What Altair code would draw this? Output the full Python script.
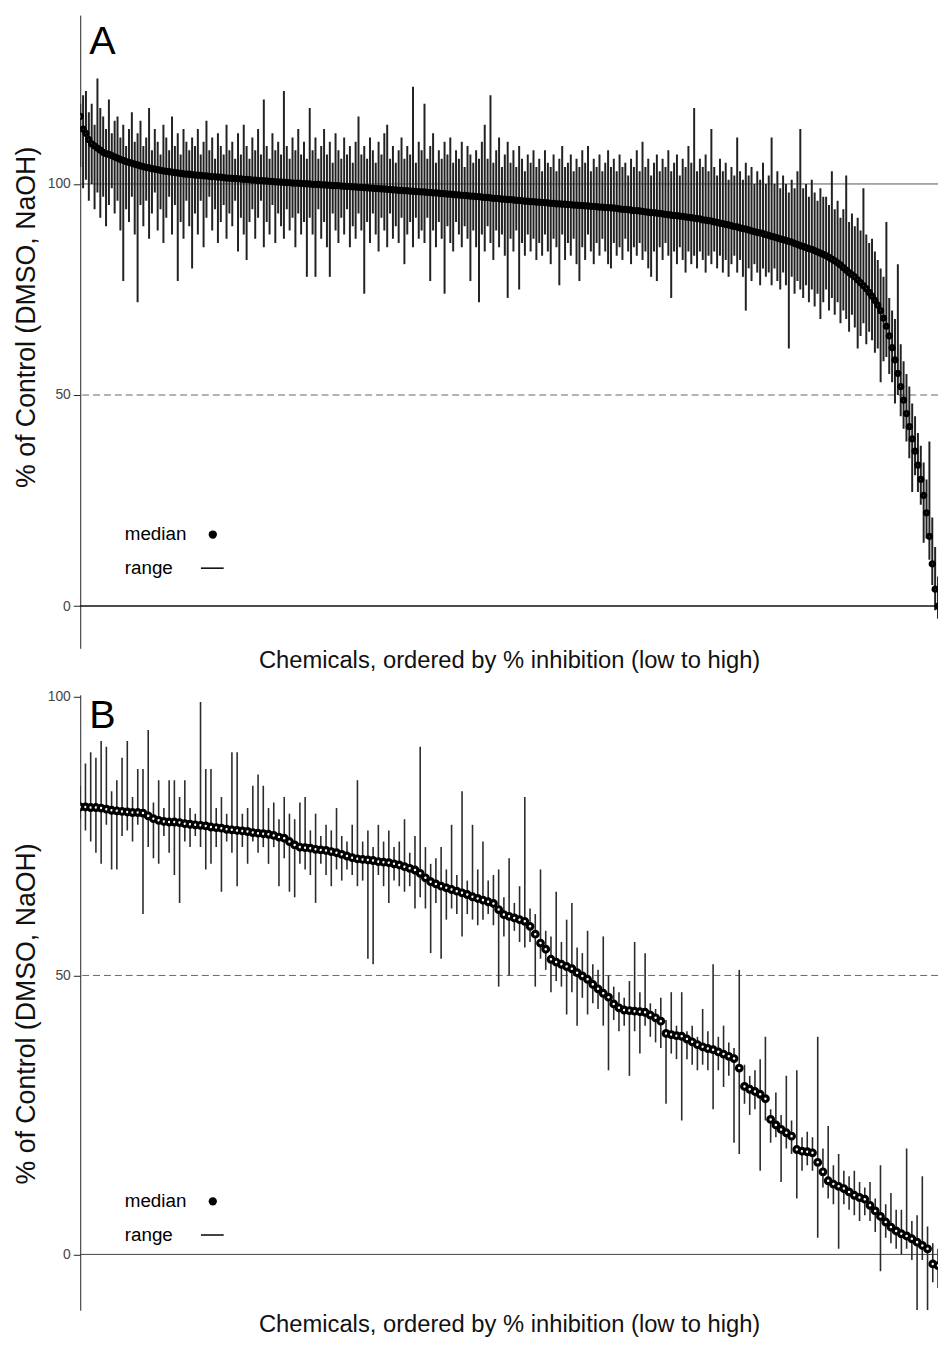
import altair as alt
import pandas as pd

# ---------------- Panel A data (chemicals ordered by % inhibition) ----------------
A_MED = [
    116, 113, 112, 110.5, 109.5, 109, 108.5, 108, 107.5, 107.2,
    107, 106.7, 106.4, 106.1, 105.8, 105.6, 105.3, 105.1, 104.9, 104.7,
    104.5, 104.3, 104.1, 103.9, 103.8, 103.6, 103.5, 103.4, 103.2, 103.1,
    103, 102.9, 102.8, 102.7, 102.6, 102.5, 102.4, 102.3, 102.3, 102.2,
    102.1, 102.1, 102, 101.9, 101.9, 101.8, 101.7, 101.7, 101.6, 101.6,
    101.5, 101.4, 101.4, 101.3, 101.3, 101.2, 101.2, 101.1, 101.1, 101.0,
    100.9, 100.9, 100.8, 100.8, 100.7, 100.7, 100.6, 100.6, 100.5, 100.5,
    100.4, 100.4, 100.3, 100.3, 100.2, 100.2, 100.2, 100.1, 100.1, 100.0,
    100.0, 99.9, 99.9, 99.9, 99.8, 99.8, 99.7, 99.7, 99.6, 99.6,
    99.6, 99.5, 99.5, 99.4, 99.4, 99.3, 99.3, 99.2, 99.2, 99.1,
    99.1, 99.0, 99.0, 98.9, 98.9, 98.8, 98.8, 98.7, 98.7, 98.6,
    98.6, 98.5, 98.5, 98.4, 98.4, 98.3, 98.3, 98.2, 98.2, 98.1,
    98.1, 98.0, 98.0, 97.9, 97.9, 97.8, 97.7, 97.7, 97.6, 97.6,
    97.5, 97.4, 97.4, 97.3, 97.3, 97.2, 97.1, 97.1, 97.0, 97.0,
    96.9, 96.8, 96.8, 96.7, 96.6, 96.6, 96.5, 96.4, 96.4, 96.3,
    96.3, 96.2, 96.1, 96.1, 96.0, 95.9, 95.9, 95.8, 95.8, 95.7,
    95.7, 95.6, 95.6, 95.5, 95.4, 95.4, 95.3, 95.3, 95.2, 95.2,
    95.1, 95.1, 95.0, 95.0, 94.9, 94.9, 94.8, 94.8, 94.7, 94.7,
    94.6, 94.5, 94.5, 94.4, 94.4, 94.3, 94.3, 94.2, 94.1, 94.0,
    94.0, 93.9, 93.8, 93.7, 93.7, 93.6, 93.5, 93.4, 93.3, 93.2,
    93.2, 93.1, 93.0, 92.9, 92.8, 92.7, 92.6, 92.5, 92.5, 92.4,
    92.3, 92.2, 92.1, 92.0, 91.9, 91.8, 91.7, 91.5, 91.4, 91.3,
    91.2, 91.0, 90.9, 90.7, 90.6, 90.4, 90.3, 90.1, 89.9, 89.8,
    89.6, 89.4, 89.3, 89.1, 88.9, 88.7, 88.5, 88.4, 88.2, 88.0,
    87.8, 87.6, 87.4, 87.2, 87.0, 86.8, 86.6, 86.4, 86.2, 85.9,
    85.7, 85.4, 85.2, 84.9, 84.7, 84.5, 84.2, 83.9, 83.6, 83.3,
    83.0, 82.6, 82.2, 81.8, 81.3, 80.8, 80.2, 79.6, 79.0, 78.5,
    78.0, 77.3, 76.6, 75.9, 75.2, 74.3, 73.4, 72.4, 71.3, 70.0,
    68.2, 66.3, 64.0, 61.2, 58.3, 55.1, 52.0, 48.8, 45.6, 42.5,
    39.6, 36.7, 33.4, 30.0, 26.2, 22.1, 16.5, 10.0, 4.0, 0.0,
]
A_HI = [
    119, 121, 122, 117, 119, 114, 125, 118, 116, 113, 120, 112, 115, 116, 111, 114, 109, 113, 117, 110,
    112, 115, 109, 111, 118, 108, 113, 110, 107, 114, 111, 108, 116, 109, 112, 107, 113, 110, 108, 111,
    109, 113, 107, 110, 115, 108, 111, 106, 112, 109, 107, 114, 108, 110, 106, 112, 107, 114, 109, 106,
    111, 108, 113, 107, 120, 109, 106, 112, 108, 110, 107, 122, 109, 106, 111, 108, 113, 107, 110, 106,
    118, 108, 111, 106, 109, 113, 107, 110, 105, 112, 108, 106, 111, 107, 109, 105, 110, 116, 107, 109,
    106, 111, 108, 105, 110, 107, 112, 114, 106, 109, 105, 108, 111, 106, 109, 107, 123, 105, 110, 108,
    119, 106, 109, 112, 105, 108, 106, 110, 107, 111, 105, 108, 106, 110, 104, 109, 107, 105, 108, 106,
    110, 114, 106, 121, 105, 108, 111, 104, 107, 110, 105, 108, 104, 109, 106, 103, 107, 105, 108, 104,
    106, 103, 108, 105, 104, 107, 103, 106, 109, 104, 105, 107, 103, 106, 104, 108, 105, 109, 103, 106,
    104, 107, 103, 105, 108, 104, 106, 103, 107, 104, 105, 102, 106, 104, 108, 103, 110, 104, 106, 102,
    105, 107, 103, 106, 104, 108, 103, 105, 107, 102, 106, 104, 109, 105, 118, 103, 106, 104, 107, 103,
    113, 104, 102, 106, 103, 105, 101, 104, 102, 111, 103, 101, 105, 102, 104, 100, 103, 101, 105, 100,
    102, 111, 100, 103, 99, 102, 100, 98, 101, 99, 103, 113, 99, 100, 97, 101, 98, 96, 99, 97,
    97, 95, 103, 94, 96, 92, 94, 102, 91, 93, 90, 92, 89, 99, 88, 86, 87, 84, 82, 80,
    78, 91, 73, 70, 68, 81, 62, 58, 55, 52, 48, 45, 41, 38, 34, 30, 39, 21, 14, 7,
]
A_LO = [
    104, 99, 101, 96, 100, 94, 98, 92, 97, 90, 95, 99, 93, 96, 89, 77, 94, 91, 97, 88,
    72, 95, 90, 96, 87, 93, 98, 89, 94, 86, 92, 97, 88, 95, 77, 91, 87, 96, 90, 80,
    93, 88, 96, 85, 92, 97, 89, 94, 86, 91, 95, 87, 93, 90, 96, 84, 92, 88, 82, 91,
    94, 87, 92, 96, 85, 91, 88, 95, 86, 93, 90, 87, 94, 89, 92, 85, 93, 88, 91, 78,
    92, 88, 78, 94, 87, 91, 85, 78, 93, 89, 86, 92, 88, 94, 85, 90, 87, 93, 89, 74,
    91, 86, 93, 88, 84, 92, 89, 85, 93, 87, 90, 86, 92, 81, 88, 91, 85, 92, 87, 89,
    86, 92, 77, 89, 85, 91, 87, 74, 90, 86, 84, 91, 88, 85, 90, 87, 77, 89, 85, 72,
    88, 84, 90, 86, 82, 89, 85, 88, 83, 73, 87, 84, 89, 75, 86, 83, 88, 84, 87, 82,
    86, 83, 88, 84, 81, 87, 85, 76, 88, 82, 86, 83, 87, 81, 77, 85, 82, 88, 84, 81,
    86, 83, 87, 84, 81, 80, 86, 83, 85, 82, 87, 84, 81, 85, 83, 86, 82, 84, 80, 78,
    84, 77, 85, 82, 86, 83, 73, 84, 81, 85, 82, 79, 84, 81, 83, 80, 84, 82, 79, 83,
    81, 84, 80, 83, 79, 82, 78, 81, 83, 79, 82, 78, 70, 80, 77, 81, 79, 76, 80, 78,
    79, 76, 80, 77, 75, 79, 76, 61, 78, 74, 77, 75, 73, 76, 72, 75, 71, 74, 68, 72,
    75, 70, 73, 69, 72, 67, 70, 68, 65, 69, 66, 61, 64, 67, 62, 65, 63, 60, 61, 53,
    58, 59, 55, 53, 48, 50, 45, 42, 39, 35, 27, 31, 27, 24, 15, 16, 11, 5, -1, -3,
]

# ---------------- Panel B data ----------------
B_MED = [
    80.2, 80.2, 80.1, 80.1, 80.0, 79.8, 79.6, 79.5, 79.4, 79.3, 79.2, 79.2, 79.1, 78.6, 78.1, 77.8, 77.6, 77.5, 77.5, 77.4,
    77.2, 77.1, 77.0, 76.9, 76.8, 76.6, 76.5, 76.4, 76.2, 76.1, 76.0, 75.9, 75.8, 75.6, 75.5, 75.4, 75.3, 75.1, 74.8, 74.6,
    74.0, 73.4, 73.0, 72.9, 72.8, 72.6, 72.5, 72.4, 72.2, 72.0, 71.7, 71.4, 71.1, 70.9, 70.8, 70.7, 70.6, 70.4, 70.3, 70.2,
    70.0, 69.8, 69.5, 69.2, 68.9, 68.3, 67.5, 66.8, 66.4, 66.0, 65.7, 65.4, 65.1, 64.8, 64.5, 64.1, 63.8, 63.5, 63.2, 62.9,
    61.8, 60.9, 60.6, 60.3, 60.0, 59.7, 58.8, 57.4, 55.8, 54.7, 52.9, 52.4, 52.0, 51.6, 51.2, 50.5, 49.9, 49.3, 48.4, 47.6,
    46.8, 46.1, 44.9, 44.2, 43.8, 43.7, 43.6, 43.5, 43.4, 42.9, 42.4, 41.8, 39.6, 39.4, 39.2, 39.1, 38.6, 38.1, 37.6, 37.2,
    36.9, 36.7, 36.3, 35.9, 35.5, 35.1, 33.4, 30.1, 29.6, 29.2, 28.7, 27.9, 24.2, 23.2, 22.4, 21.8, 21.2, 18.8, 18.5, 18.4,
    18.2, 16.5, 14.8, 13.2, 12.6, 12.2, 11.8, 11.2, 10.6, 10.2, 9.9, 8.8, 7.8, 6.8, 5.8, 4.9, 4.2, 3.7, 3.3, 2.8,
    2.2, 1.6, 1.0, -1.7, -2.0,
]
B_HI = [
    84, 88, 90, 89, 92, 91, 83, 85, 89, 92, 82, 87, 87, 94, 81, 85, 80, 85, 85, 82,
    85, 80, 79, 99, 87, 87, 80, 82, 79, 90, 90, 79, 80, 84, 86, 84, 80, 81, 78, 82,
    79, 78, 81, 82, 76, 79, 75, 77, 76, 80, 75, 74, 77, 85, 74, 76, 73, 77, 74, 76,
    73, 74, 78, 72, 75, 91, 73, 70, 71, 73, 69, 77, 68, 83, 67, 77, 69, 74, 67, 68,
    69, 64, 71, 63, 66, 82, 62, 61, 69, 58, 57, 65, 56, 60, 63, 55, 54, 58, 52, 51,
    57, 50, 48, 47, 46, 49, 56, 47, 54, 45, 44, 46, 42, 47, 41, 47, 40, 41, 39, 44,
    40, 52, 39, 41, 38, 37, 51, 34, 32, 33, 35, 39, 26, 29, 25, 32, 24, 33, 21, 22,
    21, 39, 19, 23, 16, 18, 15, 14, 15, 13, 12, 13, 10, 16, 9, 11, 8, 8, 19, 6,
    7, 14, 5, 2, 1,
]
B_LO = [
    78, 76, 74, 72, 70, 77, 69, 69, 75, 76, 74, 77, 61, 73, 71, 70, 75, 72, 68, 63,
    74, 73, 75, 73, 69, 70, 73, 65, 74, 72, 66, 73, 70, 74, 72, 73, 70, 73, 66, 71,
    65, 64, 70, 69, 68, 63, 70, 68, 66, 69, 67, 69, 68, 66, 67, 53, 52, 68, 66, 63,
    67, 66, 65, 66, 62, 64, 62, 54, 63, 53, 60, 62, 61, 57, 61, 60, 59, 60, 61, 59,
    48, 57, 50, 58, 56, 55, 56, 48, 53, 51, 47, 49, 48, 43, 47, 41, 46, 43, 45, 44,
    41, 33, 42, 40, 41, 32, 40, 36, 41, 39, 38, 37, 27, 36, 35, 24, 35, 34, 33, 34,
    33, 26, 33, 30, 32, 20, 18, 27, 25, 26, 15, 24, 20, 21, 13, 19, 18, 10, 15, 16,
    15, 3, 12, 10, 9, 1, 9, 8, 7, 6, 7, 6, 4, -3, 3, 2, 1, 0, 1, -1,
    -10, -1, -10, -5, -6,
]

assert len(A_MED) == len(A_HI) == len(A_LO) == 300
assert len(B_MED) == len(B_HI) == len(B_LO) == 165

Y_TICKS = [0, 50, 100]
A_TOP_LINE = [100]
ZERO_LINE = [0]
HALF_LINE = [50]
X_TITLE = "Chemicals, ordered by % inhibition (low to high)"
Y_TITLE = "% of Control (DMSO, NaOH)"
FONT = "Liberation Sans"
W = 867


def make_panel(med, lo, hi, letter, cfg):
    n = len(med)
    df = pd.DataFrame({"i": list(range(n)), "med": med, "lo": lo, "hi": hi})
    xs = alt.Scale(domain=[0, n - 1], nice=False, zero=False)
    ys = alt.Scale(domain=cfg["ydom"], nice=False, zero=False)

    x_axis = alt.Axis(
        domain=False, ticks=False, labels=False, grid=False, title=X_TITLE,
        titleFont=FONT, titleFontSize=24, titleFontWeight="normal", titleColor="#111",
        titleY=cfg["xtitle_y"], titleBaseline="alphabetic",
    )
    y_axis = alt.Axis(
        values=Y_TICKS, grid=False, title=Y_TITLE,
        domainColor="#222", domainWidth=1, tickColor="#222", tickSize=7,
        labelFont=FONT, labelFontSize=14, labelColor="#444", labelPadding=3,
        titleFont=FONT, titleFontSize=27, titleFontWeight="normal", titleColor="#111",
        titleAngle=270, titleX=-46, titleY=cfg["ytitle_y"],
        titleBaseline="alphabetic", titleAlign="center",
    )

    def hline(vals, color, width, dash=None):
        kw = dict(color=color, strokeWidth=width)
        if dash:
            kw["strokeDash"] = dash
        return alt.Chart(pd.DataFrame({"v": vals})).mark_rule(**kw).encode(
            y=alt.Y("v:Q", scale=ys, axis=y_axis, title=Y_TITLE)
        )

    layers = []
    if cfg["top_line"]:
        layers.append(hline(A_TOP_LINE, "#555", 1))
    layers.append(hline(HALF_LINE, "#666", 1, [7, 4]))
    layers.append(hline(ZERO_LINE, cfg["zero_color"], cfg["zero_width"]))

    base = alt.Chart(df)
    ranges = base.mark_rule(clip=True, color=cfg["rc"], strokeWidth=cfg["rw"]).encode(
        x=alt.X("i:Q", scale=xs, axis=x_axis, title=X_TITLE),
        y=alt.Y("lo:Q", scale=ys, axis=y_axis, title=Y_TITLE),
        y2="hi:Q",
    )
    points = base.mark_point(
        shape="circle", filled=True, fill="white", stroke="black",
        strokeWidth=cfg["pw"], size=cfg["ps"], opacity=1, clip=True,
    ).encode(
        x=alt.X("i:Q", scale=xs, axis=x_axis, title=X_TITLE),
        y=alt.Y("med:Q", scale=ys, axis=y_axis, title=Y_TITLE),
    )
    layers += [ranges, points]

    letter_t = alt.Chart(pd.DataFrame({"t": [letter]})).mark_text(
        font=FONT, fontSize=40, align="left", baseline="alphabetic", color="black"
    ).encode(x=alt.value(9), y=alt.value(cfg["letter_y"]), text="t:N")
    med_t = alt.Chart(pd.DataFrame({"t": ["median"]})).mark_text(
        font=FONT, fontSize=19, align="left", baseline="middle", color="black"
    ).encode(x=alt.value(45), y=alt.value(cfg["leg_y"]), text="t:N")
    rng_t = alt.Chart(pd.DataFrame({"t": ["range"]})).mark_text(
        font=FONT, fontSize=19, align="left", baseline="middle", color="black"
    ).encode(x=alt.value(45), y=alt.value(cfg["leg_y"] + 34), text="t:N")
    dot = alt.Chart(pd.DataFrame({"t": ["median"]})).mark_point(
        shape="circle", filled=True, color="black", size=70, opacity=1
    ).encode(x=alt.value(134), y=alt.value(cfg["leg_y"]))
    dash = alt.Chart(pd.DataFrame({"t": ["range"]})).mark_rule(
        color="black", strokeWidth=1.5
    ).encode(x=alt.value(122), x2=alt.value(145), y=alt.value(cfg["leg_y"] + 34))
    layers += [letter_t, med_t, rng_t, dot, dash]

    return alt.layer(*layers).properties(width=W, height=cfg["height"])


cfgA = dict(ydom=[-10, 140], height=640, xtitle_y=19, ytitle_y=305, letter_y=39,
            leg_y=525, top_line=True, zero_color="#111", zero_width=1.5,
            rc="#222222", rw=2.0, pw=3.4, ps=16)
cfgB = dict(ydom=[-10, 100.3], height=622, xtitle_y=22, ytitle_y=322, letter_y=34,
            leg_y=512, top_line=False, zero_color="#444", zero_width=1,
            rc="#2b2b2b", rw=1.6, pw=3.2, ps=33)

pA = make_panel(A_MED, A_LO, A_HI, "A", cfgA)
pB = make_panel(B_MED, B_LO, B_HI, "B", cfgB)

chart = (
    alt.vconcat(pA, pB, spacing=47, bounds="flush")
    .properties(padding={"left": 5, "top": 0, "right": 0, "bottom": 2})
    .configure_view(stroke=None)
)

chart.save("out.html", embed_options={"renderer": "svg", "actions": False})
